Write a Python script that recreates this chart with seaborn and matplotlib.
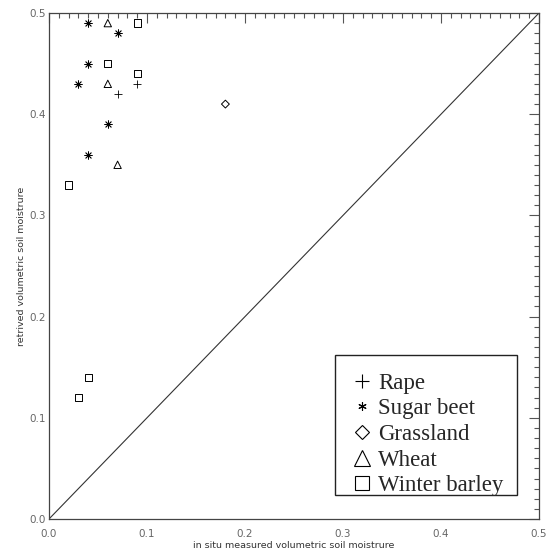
import matplotlib
matplotlib.use("Agg")
import matplotlib.pyplot as plt
from matplotlib.lines import Line2D
from matplotlib.patches import Rectangle
from matplotlib.ticker import MultipleLocator
import seaborn as sns
import pandas as pd

# ---- data ----
rape_x = [0.09, 0.07]
rape_y = [0.43, 0.42]
sugar_x = [0.04, 0.07, 0.04, 0.03, 0.06, 0.04]
sugar_y = [0.49, 0.48, 0.45, 0.43, 0.39, 0.36]
grass_x = [0.18]
grass_y = [0.41]
wheat_x = [0.06, 0.06, 0.07]
wheat_y = [0.49, 0.43, 0.35]
barley_x = [0.09, 0.06, 0.09, 0.02, 0.04, 0.03]
barley_y = [0.49, 0.45, 0.44, 0.33, 0.14, 0.12]

crops = ["Rape", "Sugar beet", "Grassland", "Wheat", "Winter barley"]
ref_line = [0.0, 0.5]
x_label = "in situ measured volumetric soil moistrure"
y_label = "retrived volumetric soil moistrure"

frames = []
for name, xs, ys in zip(crops,
                        [rape_x, sugar_x, grass_x, wheat_x, barley_x],
                        [rape_y, sugar_y, grass_y, wheat_y, barley_y]):
    frames.append(pd.DataFrame({"x": xs, "y": ys, "crop": name}))
df = pd.concat(frames, ignore_index=True)

sns.set_style("white")
plt.rcParams["font.family"] = ["DejaVu Sans"]

fig = plt.figure(figsize=(5.57, 5.56), dpi=100)
ax = fig.add_axes([49 / 557, 1 - 519 / 556, 490 / 557, 506 / 556])

asterisk = (8, 2, 0)
styles = {
    "Rape": dict(marker="+", line=True, s=40),
    "Sugar beet": dict(marker=asterisk, line=True, s=28),
    "Grassland": dict(marker="D", line=False, s=16),
    "Wheat": dict(marker="^", line=False, s=28),
    "Winter barley": dict(marker="s", line=False, s=28),
}
for name in crops:
    sub = df[df["crop"] == name]
    st = styles[name]
    if st["line"]:
        sns.scatterplot(data=sub, x="x", y="y", marker=st["marker"], s=st["s"],
                        color="black", linewidth=0.6, ax=ax, legend=False)
    else:
        sns.scatterplot(data=sub, x="x", y="y", marker=st["marker"], s=st["s"],
                        facecolor="none", edgecolor="black", linewidth=0.7,
                        ax=ax, legend=False)

ax.plot(ref_line, ref_line, color="#333333", linewidth=0.8)

ax.set_xlim(0, 0.5)
ax.set_ylim(0, 0.5)
ax.xaxis.set_major_locator(MultipleLocator(0.1))
ax.yaxis.set_major_locator(MultipleLocator(0.1))
ax.xaxis.set_minor_locator(MultipleLocator(0.01))
ax.yaxis.set_minor_locator(MultipleLocator(0.01))
ax.xaxis.set_major_formatter(plt.FormatStrFormatter("%.1f"))
ax.yaxis.set_major_formatter(plt.FormatStrFormatter("%.1f"))
ax.tick_params(which="both", direction="in", top=True, right=True,
               color="#555555", width=0.8, labelsize=7.5, labelcolor="#666666")
ax.tick_params(axis="x", which="major", pad=7)
ax.tick_params(axis="y", which="major", pad=2)
ax.tick_params(which="major", length=7)
ax.tick_params(which="minor", length=3.5)
for sp in ax.spines.values():
    sp.set_color("#444444")
    sp.set_linewidth(0.9)

ax.set_xlabel(x_label, fontsize=6.8, color="#333333", labelpad=2)
ax.set_ylabel(y_label, fontsize=6.8, color="#333333", labelpad=3)

# legend box frame (axes coordinates)
ax.add_patch(Rectangle((0.584, 0.047), 0.371, 0.277, transform=ax.transAxes,
                       facecolor="white", edgecolor="#222222", linewidth=1.0, zorder=4))

handles = [
    Line2D([], [], linestyle="none", marker="+", markersize=10, color="black", markeredgewidth=0.8),
    Line2D([], [], linestyle="none", marker=(6, 2, 0), markersize=6, color="black", markeredgewidth=0.8),
    Line2D([], [], linestyle="none", marker="D", markersize=7.5, markerfacecolor="none", markeredgecolor="black", markeredgewidth=0.8),
    Line2D([], [], linestyle="none", marker="^", markersize=12, markerfacecolor="none", markeredgecolor="black", markeredgewidth=0.8),
    Line2D([], [], linestyle="none", marker="s", markersize=9.5, markerfacecolor="none", markeredgecolor="black", markeredgewidth=0.8),
]
leg = ax.legend(handles, crops, loc="upper left", bbox_to_anchor=(0.615, 0.289),
                frameon=False,
                prop={"family": "Liberation Serif", "size": 16.5},
                handlelength=1.0, handletextpad=0.22, labelspacing=0.2,
                borderpad=0, borderaxespad=0)
leg.set_zorder(5)

fig.savefig("out.png", dpi=100)
